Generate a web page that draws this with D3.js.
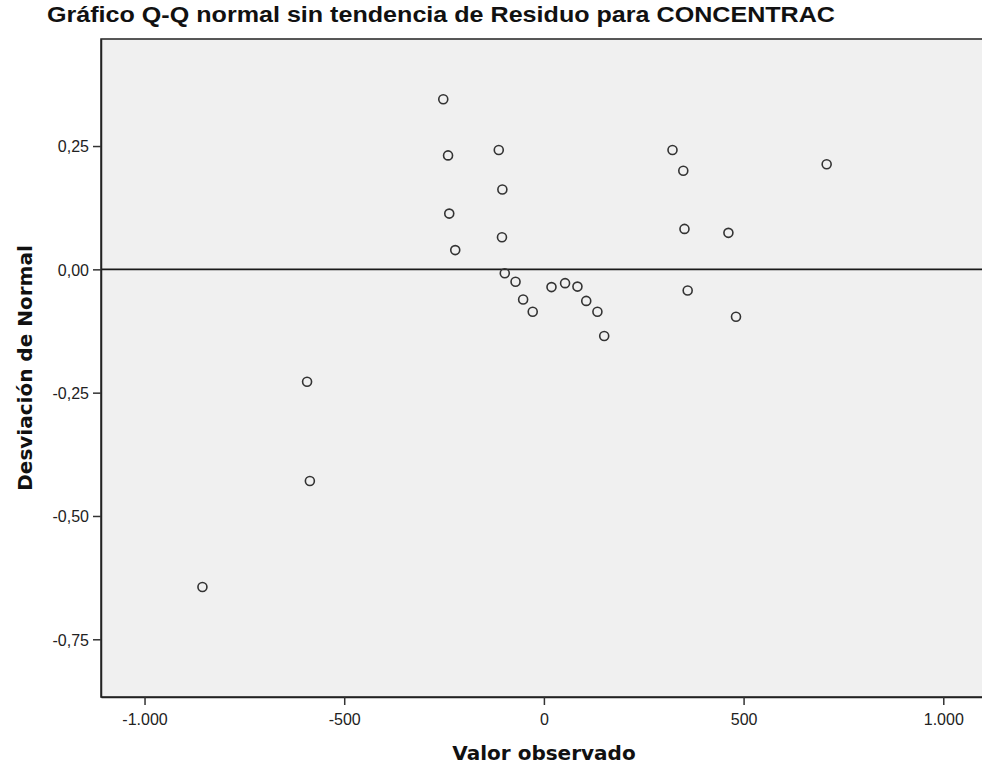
<!DOCTYPE html>
<html>
<head>
<meta charset="utf-8">
<script src="https://cdn.jsdelivr.net/npm/d3@7"></script>
<style>
  html, body { margin: 0; padding: 0; background: #fff; overflow: hidden; }
  text { font-family: "Liberation Sans", Arial, sans-serif; }
</style>
</head>
<body>
<div id="chart"></div>
<script>
// observed residual values (x) and deviation from normal (y)
const observed = [-252, -240, -237, -222, -113, -104, -105, -98, -71, -52, -28,
    19, 53, 84, 106, 134, 151, 322, 349, 352, 360, 462, 481, 708, -593, -586, -855];
const deviation = [0.345, 0.231, 0.113, 0.039, 0.242, 0.162, 0.065, -0.008, -0.025, -0.061, -0.086,
    -0.036, -0.028, -0.035, -0.064, -0.086, -0.135, 0.242, 0.200, 0.082, -0.043, 0.074, -0.096, 0.213, -0.228, -0.429, -0.644];
const xTicks = [-1000, -500, 0, 500, 1000];
const yTicks = [0.25, 0, -0.25, -0.5, -0.75];

const width = 982, height = 773;
const plotLeft = 101, plotRight = 990, plotTop = 39, plotBottom = 697;

const es = d3.formatLocale({ decimal: ",", thousands: ".", grouping: [3], currency: ["", "€"], minus: "-" });
const fmtX = es.format(",.0f");
const fmtY = es.format(".2f");

const svg = d3.select("#chart").append("svg")
    .attr("width", width).attr("height", height);

const x = d3.scaleLinear().domain([-1109, 1117]).range([plotLeft, plotRight]);
const y = d3.scaleLinear().domain([-0.867, 0.467]).range([plotBottom, plotTop]);

svg.append("rect")
    .attr("x", plotLeft).attr("y", plotTop)
    .attr("width", plotRight - plotLeft).attr("height", plotBottom - plotTop)
    .attr("fill", "#f0f0f0")
    .attr("stroke", "#222").attr("stroke-width", 1.5);

// reference line at zero
svg.append("line")
    .attr("x1", plotLeft).attr("x2", plotRight)
    .attr("y1", y(0)).attr("y2", y(0))
    .attr("stroke", "#1a1a1a").attr("stroke-width", 1.8);

const xAxis = svg.append("g")
    .attr("transform", `translate(0,${plotBottom})`)
    .call(d3.axisBottom(x).tickValues(xTicks).tickFormat(fmtX).tickSize(8).tickSizeOuter(0));
const yAxis = svg.append("g")
    .attr("transform", `translate(${plotLeft},0)`)
    .call(d3.axisLeft(y).tickValues(yTicks).tickFormat(fmtY).tickSize(8).tickSizeOuter(0));

[xAxis, yAxis].forEach(g => {
    g.select(".domain").attr("stroke", "#222").attr("stroke-width", 1.5);
    g.selectAll(".tick line").attr("stroke", "#333").attr("stroke-width", 1.5);
    g.selectAll(".tick text")
        .attr("fill", "#222")
        .style("font-family", "'Liberation Sans', Arial, sans-serif")
        .style("font-size", "16px");
});
xAxis.selectAll(".tick text").attr("dy", "1.05em");
yAxis.selectAll(".tick text").attr("x", -12).attr("dy", "0.36em");

const pts = observed.map((v, i) => ({ x: v, y: deviation[i] }));
svg.append("g").selectAll("circle")
    .data(pts)
    .enter().append("circle")
    .attr("cx", d => x(d.x))
    .attr("cy", d => y(d.y))
    .attr("r", 4.5)
    .attr("fill", "none")
    .attr("stroke", "#333")
    .attr("stroke-width", 1.6);

svg.append("text")
    .attr("x", 47).attr("y", 22)
    .attr("font-weight", "bold")
    .attr("font-size", "22px")
    .attr("textLength", 788)
    .attr("lengthAdjust", "spacingAndGlyphs")
    .attr("fill", "#111")
    .text("Gráfico Q-Q normal sin tendencia de Residuo para CONCENTRAC");

svg.append("text")
    .attr("x", 544).attr("y", 760)
    .attr("text-anchor", "middle")
    .attr("font-weight", "bold")
    .attr("font-size", "20px")
    .style("font-family", "'DejaVu Sans', Verdana, sans-serif")
    .attr("fill", "#111")
    .text("Valor observado");

svg.append("text")
    .attr("transform", `translate(32,368) rotate(-90)`)
    .attr("text-anchor", "middle")
    .attr("font-weight", "bold")
    .attr("font-size", "20px")
    .style("font-family", "'DejaVu Sans', Verdana, sans-serif")
    .attr("fill", "#111")
    .text("Desviación de Normal");
</script>
</body>
</html>
